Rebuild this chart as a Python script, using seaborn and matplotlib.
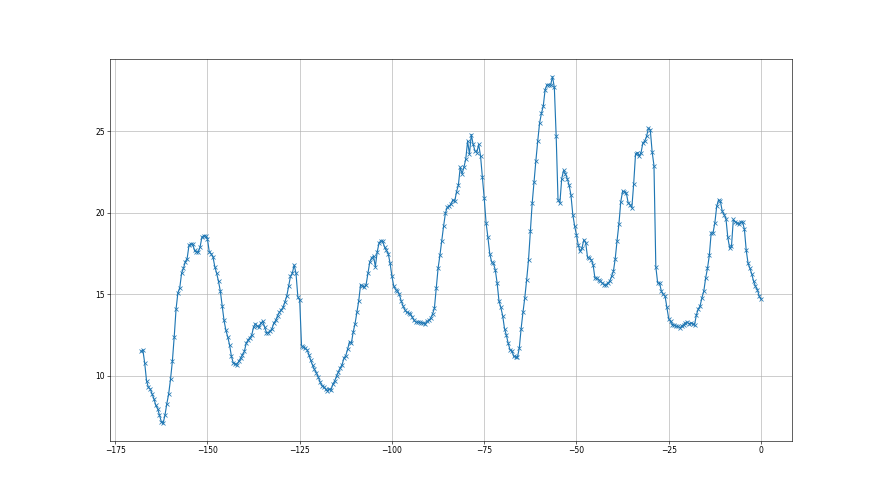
# hourly series with x markers, last 168 units

import numpy as np
import pandas as pd
import matplotlib
matplotlib.use('Agg')
import matplotlib.pyplot as plt
import seaborn as sns


step = 0.5
x_start = -168
values = [
    11.5, 11.6, 10.8, 9.7, 9.3, 9.2, 8.9, 8.6, 8.2, 8.0,
    7.6, 7.2, 7.1, 7.6, 8.3, 8.9, 9.8, 10.9, 12.4, 14.1,
    15.1, 15.4, 16.3, 16.6, 17.0, 17.2, 18.0, 18.1, 18.1, 17.7,
    17.6, 17.6, 17.9, 18.5, 18.6, 18.6, 18.4, 17.6, 17.5, 17.3,
    16.7, 16.3, 15.8, 15.2, 14.3, 13.4, 12.8, 12.4, 11.9, 11.2,
    10.8, 10.75, 10.7, 10.9, 11.1, 11.3, 11.5, 12.0, 12.2, 12.35,
    12.5, 13.0, 13.2, 13.05, 13.0, 13.25, 13.35, 13.0, 12.65, 12.65,
    12.75, 12.9, 13.25, 13.4, 13.7, 13.9, 14.05, 14.2, 14.55, 14.9,
    15.5, 16.1, 16.3, 16.8, 16.3, 14.85, 14.65, 11.85, 11.75, 11.7,
    11.6, 11.3, 10.95, 10.65, 10.4, 10.2, 9.95, 9.65, 9.4, 9.35,
    9.2, 9.1, 9.2, 9.15, 9.5, 9.7, 10.0, 10.25, 10.5, 10.7,
    11.1, 11.25, 11.65, 12.1, 12.0, 12.7, 13.2, 13.9, 14.6, 15.6,
    15.5, 15.45, 15.6, 16.3, 17.0, 17.25, 17.35, 16.7, 17.6, 18.15,
    18.3, 18.25, 17.9, 17.7, 17.5, 16.9, 16.1, 15.5, 15.3, 15.2,
    15.0, 14.6, 14.3, 14.05, 13.9, 13.85, 13.8, 13.6, 13.4, 13.3,
    13.3, 13.3, 13.25, 13.25, 13.2, 13.35, 13.4, 13.55, 13.8, 14.15,
    15.4, 16.6, 17.4, 18.3, 19.2, 20.0, 20.35, 20.4, 20.55, 20.8,
    20.7, 21.3, 21.7, 22.8, 22.4, 22.8, 23.3, 24.4, 23.6, 24.8,
    24.2, 23.8, 23.7, 24.2, 23.5, 22.2, 20.9, 19.4, 18.5, 17.5,
    17.0, 16.9, 16.5, 15.7, 14.6, 14.2, 13.7, 12.9, 12.5, 12.0,
    11.6, 11.55, 11.2, 11.15, 11.15, 11.7, 12.9, 13.9, 14.8, 15.9,
    17.1, 18.9, 20.6, 21.9, 23.2, 24.4, 25.5, 26.1, 26.55, 27.55,
    27.85, 27.85, 27.85, 28.35, 27.7, 24.7, 20.8, 20.6, 22.1, 22.6,
    22.4, 22.1, 21.7, 21.1, 19.9, 19.2, 18.65, 18.0, 17.64, 17.85,
    18.36, 18.16, 17.27, 17.23, 17.13, 16.82, 16.0, 16.0, 15.9, 15.8,
    15.7, 15.59, 15.55, 15.7, 15.8, 16.11, 16.41, 17.19, 18.3, 19.32,
    20.68, 21.33, 21.29, 21.23, 20.62, 20.51, 20.31, 21.78, 23.6, 23.7,
    23.5, 23.7, 24.3, 24.4, 24.7, 25.2, 25.1, 23.75, 22.9, 16.7,
    15.7, 15.7, 15.2, 15.0, 14.9, 14.2, 13.5, 13.35, 13.15, 13.1,
    13.05, 13.05, 12.95, 13.05, 13.15, 13.25, 13.3, 13.2, 13.25, 13.2,
    13.15, 13.75, 14.1, 14.3, 14.8, 15.2, 16.0, 16.6, 17.4, 18.77,
    18.77, 19.4, 20.4, 20.8, 20.7, 20.1, 19.9, 19.65, 18.5, 17.85,
    17.95, 19.6, 19.45, 19.4, 19.3, 19.45, 19.45, 19.0, 17.7, 16.9,
    16.6, 16.25, 15.8, 15.5, 15.3, 14.9, 14.7,
]

df = pd.DataFrame({
    'x': x_start + step * np.arange(len(values)),
    'value': values,
})

fig, ax = plt.subplots(figsize=(16, 9), dpi=55)

sns.lineplot(data=df, x='x', y='value', ax=ax, estimator=None,
             color='#1f77b4', linewidth=1.5,
             marker='x', markersize=6, markeredgecolor='#1f77b4',
             markeredgewidth=1.0)

ax.grid(True)
ax.set_xlabel('')
ax.set_ylabel('')

plt.savefig('out.png', dpi=55)
